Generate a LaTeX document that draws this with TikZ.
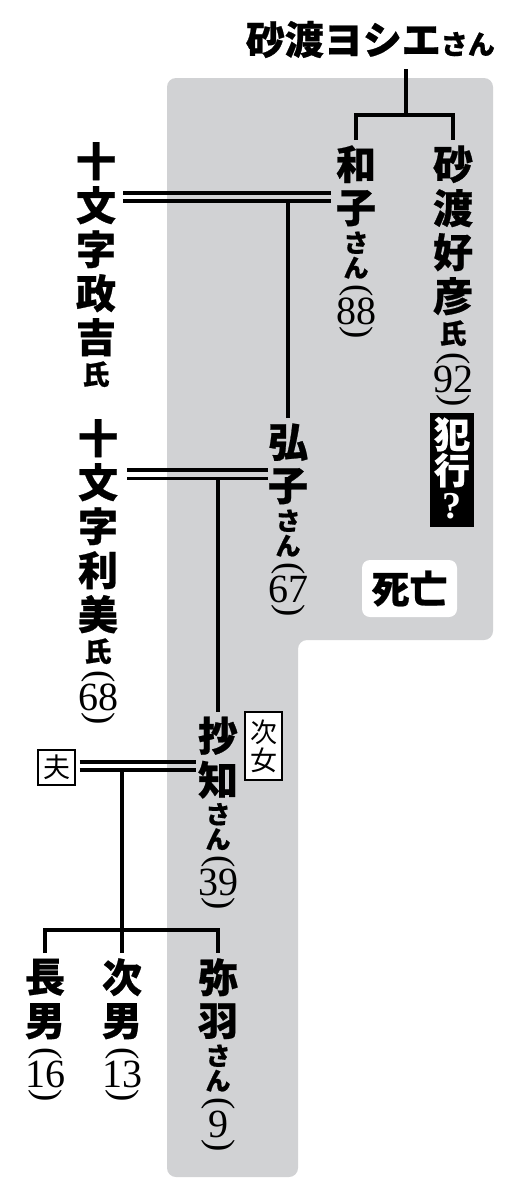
\documentclass[tikz,border=0pt]{standalone}
\usepackage{fontspec}
\usepackage{graphicx}
\usepackage{tikz}
\XeTeXuseglyphmetrics=1
\newfontfamily\jpfont{Noto Sans CJK JP}[BoldFeatures={FakeBold=0.6}]
\newfontfamily\agefont{Liberation Serif}
\definecolor{panel}{RGB}{209,210,212}

\newlength\tcw
\setlength\tcw{46pt}
\newcommand\tcell[2]{\vbox to #1{\vss\hbox to \tcw{\hss#2\hss}\vss}}
\newcommand\tkan[1]{\tcell{44pt}{\jpfont\bfseries\fontsize{40}{40}\selectfont #1}}
\newcommand\tkana[1]{\tcell{25pt}{\jpfont\bfseries\fontsize{25}{25}\selectfont #1}}
\newcommand\tshi[1]{\tcell{30pt}{\jpfont\bfseries\fontsize{27}{27}\selectfont #1}}
\newcommand\tage[1]{\kern2pt
  \tcell{16pt}{\rotatebox{-90}{\agefont\fontsize{37}{37}\selectfont(}}%
  \tcell{26pt}{\agefont\fontsize{40}{40}\selectfont #1}%
  \tcell{16pt}{\rotatebox{-90}{\agefont\fontsize{37}{37}\selectfont)}}}
\newcommand\tate[1]{\vbox{\offinterlineskip#1}}

\begin{document}
\begin{tikzpicture}[x=1pt,y=-1pt,
    link/.style={line width=3.4pt},
    col/.style={anchor=north,inner sep=2pt},
    tag/.style={draw,line width=1.2pt,fill=white,inner sep=0pt}]
    \useasboundingbox (0,0) rectangle (517,1200);
    \fill[white] (0,0) rectangle (517,1200);
    \fill[panel,rounded corners=9pt] (167,78) -- (493,78) -- (493,640) -- (298,640) -- (298,1177) -- (167,1177) -- cycle;

    \node[anchor=east,inner sep=0pt] (title) at (495,39.5) {\jpfont\bfseries\fontsize{39}{39}\selectfont 砂渡ヨシエ\fontsize{27}{27}\selectfont さん};
    \node[col] (masa) at (96,137) {\tate{\tkan{十}\tkan{文}\tkan{字}\tkan{政}\tkan{吉}\tshi{氏}}};
    \node[col] (toshi) at (98,414) {\tate{\tkan{十}\tkan{文}\tkan{字}\tkan{利}\tkan{美}\tshi{氏}\tage{68}}};
    \node[col] (kazu) at (356,140) {\tate{\tkan{和}\tkan{子}\tkana{さ}\tkana{ん}\tage{88}}};
    \node[col] (yoshi) at (453,140) {\tate{\tkan{砂}\tkan{渡}\tkan{好}\tkan{彦}\tshi{氏}\tage{92}}};
    \node[col] (hiro) at (288,418) {\tate{\tkan{弘}\tkan{子}\tkana{さ}\tkana{ん}\tage{67}}};
    \node[col] (sachi) at (218,711.5) {\tate{\tkan{抄}\tkan{知}\tkana{さ}\tkana{ん}\tage{39}}};
    \node[col] (chonan) at (45,953) {\tate{\tkan{長}\tkan{男}\tage{16}}};
    \node[col] (jinan) at (122,953) {\tate{\tkan{次}\tkan{男}\tage{13}}};
    \node[col] (yawa) at (218,953) {\tate{\tkan{弥}\tkan{羽}\tkana{さ}\tkana{ん}\tage{9}}};

    \node[fill=black,text=white,anchor=north,inner xsep=2pt,inner ysep=3pt] (guilt) at (452,413) {\setlength\tcw{40pt}\tate{\tcell{36pt}{\jpfont\bfseries\fontsize{36}{36}\selectfont 犯}\tcell{36pt}{\jpfont\bfseries\fontsize{36}{36}\selectfont 行}\tcell{36pt}{\agefont\bfseries\fontsize{38}{38}\selectfont ?}}};
    \node[fill=white,rounded corners=8pt,minimum width=95pt,minimum height=57pt,inner sep=0pt] (dead) at (409.5,588.5) {\jpfont\bfseries\fontsize{38}{38}\selectfont 死亡};
    \node[tag,minimum width=37pt,minimum height=68pt] (rank) at (263.5,746) {\setlength\tcw{30pt}\tate{\tcell{28pt}{\jpfont\fontsize{27}{27}\selectfont 次}\tcell{28pt}{\jpfont\fontsize{27}{27}\selectfont 女}}};
    \node[tag,minimum width=37pt,minimum height=35pt] (otto) at (56.5,767.5) {\jpfont\fontsize{27}{27}\selectfont 夫};

    \coordinate (fork) at (406,115);
    \coordinate (wed1a) at (0,193);
    \coordinate (wed1b) at (0,201);
    \coordinate (wed2a) at (0,470);
    \coordinate (wed2b) at (0,478.5);
    \coordinate (wed3a) at (0,762);
    \coordinate (wed3b) at (0,770);
    \coordinate (kids) at (122,930);

    \draw[link,shorten <=11pt] (title.south -| fork) -- (fork);
    \draw[link] (kazu.north) |- (fork) -| (yoshi.north);
    \draw[link,shorten <=2pt] (masa.east |- wed1a) -- (kazu.west |- wed1a);
    \draw[link,shorten <=2pt] (masa.east |- wed1b) -- (kazu.west |- wed1b);
    \draw[link] (hiro.north) -- (hiro.north |- wed1b);
    \draw[link,shorten <=4pt,shorten >=-5pt] (toshi.east |- wed2a) -- (hiro.west |- wed2a);
    \draw[link,shorten <=4pt,shorten >=-5pt] (toshi.east |- wed2b) -- (hiro.west |- wed2b);
    \draw[link] (sachi.north) -- (sachi.north |- wed2b);
    \draw[link,shorten <=4pt,shorten >=-3pt] (otto.east |- wed3a) -- (sachi.west |- wed3a);
    \draw[link,shorten <=4pt,shorten >=-3pt] (otto.east |- wed3b) -- (sachi.west |- wed3b);
    \draw[link] (jinan.north) -- (jinan.north |- wed3b);
    \draw[link] (chonan.north) |- (kids) -| (yawa.north);
\end{tikzpicture}
\end{document}
